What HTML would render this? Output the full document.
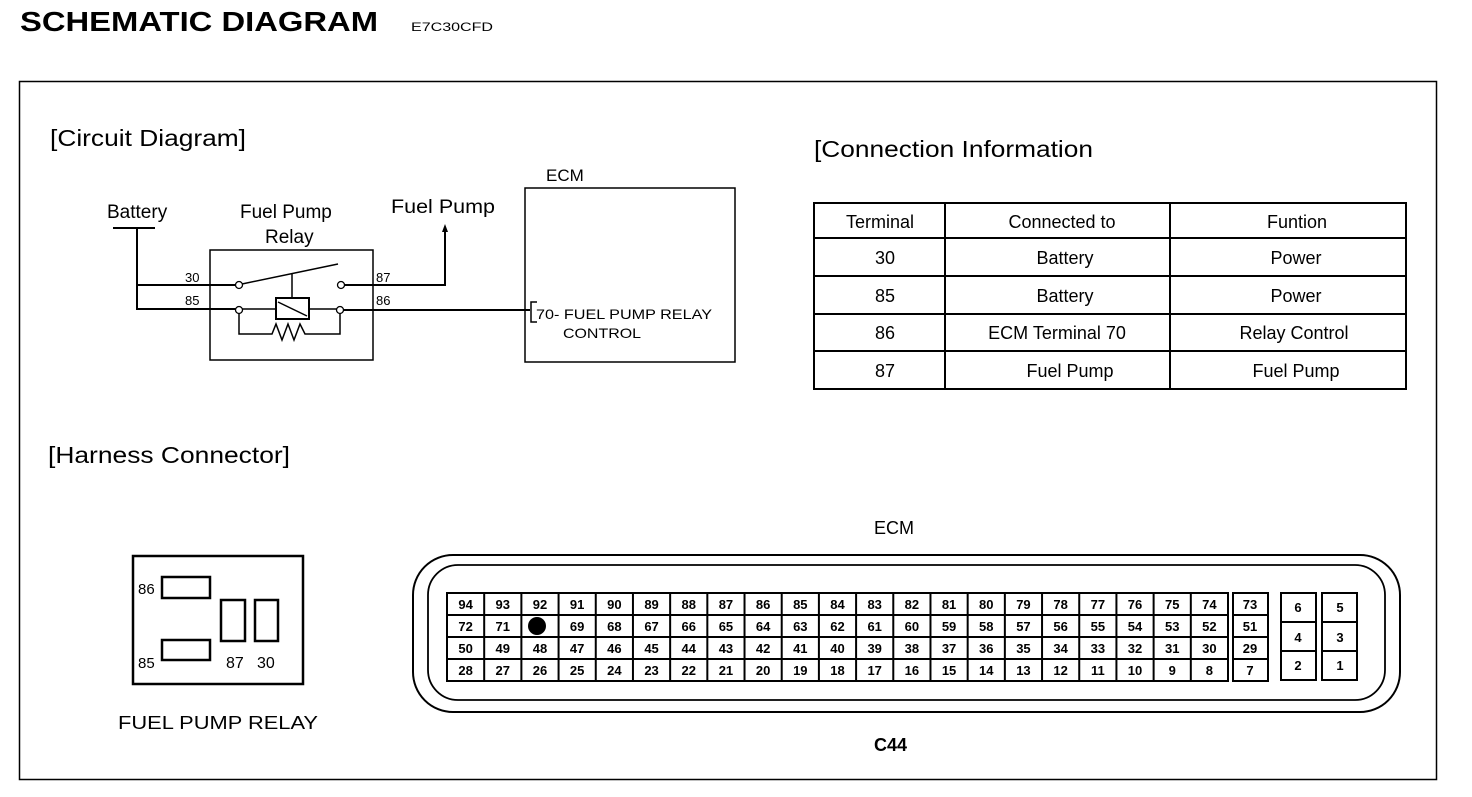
<!DOCTYPE html>
<html><head><style>
body{margin:0;background:#fff;}
svg text{font-family:"Liberation Sans",Arial,sans-serif;fill:#000;}
</style></head><body>
<svg width="1472" height="792" viewBox="0 0 1472 792" xmlns="http://www.w3.org/2000/svg">
<text x="20" y="31" font-size="28" font-weight="bold" textLength="358" lengthAdjust="spacingAndGlyphs">SCHEMATIC DIAGRAM</text>
<text x="411" y="31" font-size="12" textLength="82" lengthAdjust="spacingAndGlyphs">E7C30CFD</text>
<rect x="19.5" y="81.5" width="1417" height="698" fill="none" stroke="#000" stroke-width="1.5"/>
<text x="50" y="146" font-size="23" textLength="196" lengthAdjust="spacingAndGlyphs">[Circuit Diagram]</text>
<text x="814" y="157" font-size="23" textLength="279" lengthAdjust="spacingAndGlyphs">[Connection Information</text>
<text x="48" y="463" font-size="23" textLength="242" lengthAdjust="spacingAndGlyphs">[Harness Connector]</text>
<!-- circuit -->
<g stroke="#000" stroke-width="2" fill="none">
<line x1="113" y1="228" x2="155" y2="228"/>
<polyline points="137,228 137,309 237,309"/>
<line x1="137" y1="285" x2="236" y2="285"/>
<rect x="210" y="250" width="163" height="110" stroke-width="1.5"/>
<line x1="242" y1="284" x2="338" y2="264" stroke-width="1.5"/>
<line x1="292" y1="274" x2="292" y2="298" stroke-width="1.5"/>
<rect x="276" y="298" width="33" height="21" stroke-width="2"/>
<line x1="278" y1="302" x2="307" y2="316" stroke-width="1.5"/>
<line x1="242" y1="309" x2="276" y2="309" stroke-width="1.5"/>
<line x1="309" y1="309" x2="337" y2="309" stroke-width="1.5"/>
<polyline points="239,313 239,334 272,334 276,324 282,340 288,324 294,340 300,324 305,334 340,334 340,313" stroke-width="1.5"/>
<polyline points="344,285 445,285 445,230"/>
<line x1="343" y1="310" x2="530" y2="310"/>
<polyline points="537,302 531,302 531,322 537,322" stroke-width="1.5"/>
<rect x="525" y="188" width="210" height="174" stroke-width="1.5"/>
</g>
<g fill="#fff" stroke="#000" stroke-width="1.3">
<circle cx="239" cy="285" r="3.5"/><circle cx="341" cy="285" r="3.5"/>
<circle cx="239" cy="310" r="3.5"/><circle cx="340" cy="310" r="3.5"/>
</g>
<polygon points="445,224 442,232 448,232" fill="#000"/>
<text x="107" y="218" font-size="19">Battery</text>
<text x="240" y="218" font-size="19">Fuel Pump</text>
<text x="265" y="243" font-size="19">Relay</text>
<text x="391" y="213" font-size="19" textLength="104" lengthAdjust="spacingAndGlyphs">Fuel Pump</text>
<text x="546" y="181" font-size="17">ECM</text>
<text x="185" y="282" font-size="13">30</text>
<text x="185" y="305" font-size="13">85</text>
<text x="376" y="282" font-size="13">87</text>
<text x="376" y="305" font-size="13">86</text>
<text x="536" y="319" font-size="14" textLength="176" lengthAdjust="spacingAndGlyphs">70- FUEL PUMP RELAY</text>
<text x="563" y="338" font-size="14" textLength="78" lengthAdjust="spacingAndGlyphs">CONTROL</text>
<!-- table -->
<g stroke="#000" stroke-width="2" fill="none">
<rect x="814" y="203" width="592" height="186"/>
<line x1="945" y1="203" x2="945" y2="389"/><line x1="1170" y1="203" x2="1170" y2="389"/>
<line x1="814" y1="238" x2="1406" y2="238"/><line x1="814" y1="276" x2="1406" y2="276"/>
<line x1="814" y1="314" x2="1406" y2="314"/><line x1="814" y1="351" x2="1406" y2="351"/>
</g>
<g font-size="18" text-anchor="middle">
<text x="880" y="228">Terminal</text><text x="1062" y="228">Connected to</text><text x="1297" y="228">Funtion</text>
<text x="885" y="264">30</text><text x="1065" y="264">Battery</text><text x="1296" y="264">Power</text>
<text x="885" y="302">85</text><text x="1065" y="302">Battery</text><text x="1296" y="302">Power</text>
<text x="885" y="339">86</text><text x="1057" y="339">ECM Terminal 70</text><text x="1294" y="339">Relay Control</text>
<text x="885" y="377">87</text><text x="1070" y="377">Fuel Pump</text><text x="1296" y="377">Fuel Pump</text>
</g>
<!-- relay harness -->
<g stroke="#000" stroke-width="2.5" fill="none">
<rect x="133" y="556" width="170" height="128"/>
<rect x="162" y="577" width="48" height="21"/>
<rect x="162" y="640" width="48" height="20"/>
<rect x="221" y="600" width="24" height="41"/>
<rect x="255" y="600" width="23" height="41"/>
</g>
<text x="138" y="594" font-size="15">86</text>
<text x="138" y="668" font-size="15">85</text>
<text x="226" y="668" font-size="16">87</text>
<text x="257" y="668" font-size="16">30</text>
<text x="118" y="729" font-size="18" textLength="200" lengthAdjust="spacingAndGlyphs">FUEL PUMP RELAY</text>
<!-- ECM connector -->
<text x="874" y="534" font-size="18">ECM</text>
<text x="874" y="751" font-size="18" font-weight="bold">C44</text>
<g stroke="#000" fill="none">
<rect x="413" y="555" width="987" height="157" rx="40" stroke-width="2"/>
<rect x="428" y="565" width="957" height="135" rx="30" stroke-width="1.8"/>
</g>
<g id="grid" stroke="#000" stroke-width="2" fill="none"></g>
<g id="nums" font-size="13" font-weight="bold" text-anchor="middle"></g>
<circle cx="537" cy="626" r="9" fill="#000"/>
<script>
var g=document.getElementById('grid'),n=document.getElementById('nums'),S='http://www.w3.org/2000/svg';
function r(x,y,w,h){var e=document.createElementNS(S,'rect');e.setAttribute('x',x);e.setAttribute('y',y);e.setAttribute('width',w);e.setAttribute('height',h);g.appendChild(e);}
function l(x1,y1,x2,y2){var e=document.createElementNS(S,'line');e.setAttribute('x1',x1);e.setAttribute('y1',y1);e.setAttribute('x2',x2);e.setAttribute('y2',y2);g.appendChild(e);}
function t(x,y,s){var e=document.createElementNS(S,'text');e.setAttribute('x',x);e.setAttribute('y',y);e.textContent=s;n.appendChild(e);}
var X0=447,X1=1228,Y0=593,RH=22,cw=(X1-X0)/21;
r(X0,Y0,X1-X0,88);
for(var i=1;i<21;i++)l(X0+i*cw,Y0,X0+i*cw,Y0+88);
for(var j=1;j<4;j++)l(X0,Y0+j*RH,X1,Y0+j*RH);
var starts=[94,72,50,28];
for(var j=0;j<4;j++)for(var i=0;i<21;i++){var v=starts[j]-i;if(v==70)continue;t(X0+i*cw+cw/2,Y0+j*RH+16,v);}
r(1233,593,35,88);for(var j=1;j<4;j++)l(1233,Y0+j*RH,1268,Y0+j*RH);
[73,51,29,7].forEach(function(v,j){t(1250,Y0+j*RH+16,v);});
r(1281,593,35,87);l(1281,622,1316,622);l(1281,651,1316,651);
r(1322,593,35,87);l(1322,622,1357,622);l(1322,651,1357,651);
t(1298,612,6);t(1298,642,4);t(1298,670,2);t(1340,612,5);t(1340,642,3);t(1340,670,1);
</script>
</svg>
</body></html>
